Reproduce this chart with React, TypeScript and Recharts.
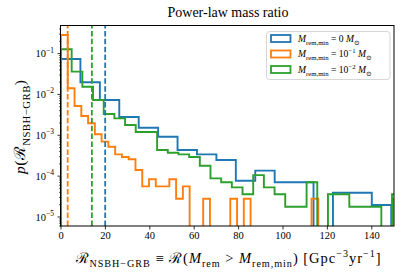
import { LineChart, Line, XAxis, YAxis, ReferenceLine } from 'recharts';

const BLUE = '#1f77b4';
const ORANGE = '#ff7f0e';
const GREEN = '#2ca02c';
const FONT = '"Liberation Serif", "DejaVu Serif", serif';

// histogram densities, one value per bin (0 = empty bin)
const blueBinWidth = 8.75;
const blueDensity = [
  0.074, 0.0199, 0.0073, 0.0028, 0.00153, 0.00092, 0.000436, 0.00034, 0.000248,
  7.7e-5, 1.36e-4, 7.1e-5, 7.1e-5, 0, 3.9e-5, 3.9e-5, 1.96e-5,
];

const orangeBinWidth = 3.05;
const orangeDensity = [
  0.287, 0.0142, 0.00522, 0.00297, 0.00197, 0.00106, 0.0007, 0.000526, 0.00034, 0.000295,
  0.000258, 0.000141, 5.6e-5, 8.4e-5, 5.6e-5, 5.6e-5, 8.4e-5, 2.8e-5, 5.6e-5, 0,
  0, 2.8e-5, 0, 0, 0, 2.8e-5, 0, 2.8e-5, 0, 0,
  0, 0, 0, 0, 0, 0, 0, 2.8e-5, 0, 0,
  0, 0, 0, 0, 0, 0, 0, 0, 0, 2.8e-5,
];

const greenBinWidth = 4.81;
const greenDensity = [
  0.128, 0.0362, 0.0155, 0.00733, 0.00333, 0.0026, 0.00179, 0.0012, 0.0012, 0.000436,
  0.000375, 0.00034, 0.000295, 0.00018, 8.8e-5, 7.1e-5, 5.3e-5, 3.6e-5, 1.06e-4, 5.3e-5,
  3.6e-5, 1.78e-5, 1.78e-5, 7.1e-5, 0, 3.6e-5, 3.6e-5, 1.78e-5, 1.78e-5, 1.78e-5,
  0, 3.6e-5,
];

// dashed vertical markers
const blueMarker = 19.9;
const orangeMarker = 3.0;
const greenMarker = 13.9;

const xTicks = [0, 20, 40, 60, 80, 100, 120, 140];
const Y_DOMAIN: [number, number] = [6e-6, 0.475];
const FLOOR = 1e-7;

const yTicks = (() => {
  const out: number[] = [];
  for (let k = -6; k <= -1; k++) {
    for (let m = 1; m <= 9; m++) {
      const v = m * Math.pow(10, k);
      if (v >= Y_DOMAIN[0] && v <= Y_DOMAIN[1]) out.push(v);
    }
  }
  return out;
})();

function histSteps(density: number[], width: number) {
  const pts = [{ x: 0, y: FLOOR }];
  density.forEach((d, i) => pts.push({ x: i * width, y: d > 0 ? d : FLOOR }));
  pts.push({ x: density.length * width, y: FLOOR });
  return pts;
}

const blueSteps = histSteps(blueDensity, blueBinWidth);
const orangeSteps = histSteps(orangeDensity, orangeBinWidth);
const greenSteps = histSteps(greenDensity, greenBinWidth);

type Seg = { t: string; it?: boolean; sub?: boolean; sup?: boolean };

function MathText({ x, y, fs, segs, anchor = 'start', transform, length }: {
  x: number; y: number; fs: number; segs: Seg[]; anchor?: string; transform?: string; length?: number;
}) {
  let cur = 0;
  return (
    <text
      x={x}
      y={y}
      fontSize={fs}
      textAnchor={anchor}
      transform={transform}
      fontFamily={FONT}
      fill="#000"
      textLength={length}
      lengthAdjust={length ? 'spacing' : undefined}
    >
      {segs.map((s, i) => {
        const target = s.sub ? 0.3 * fs : s.sup ? -0.4 * fs : 0;
        const dy = target - cur;
        cur = target;
        return (
          <tspan key={i} dy={dy} fontSize={s.sub || s.sup ? fs * 0.7 : fs} fontStyle={s.it ? 'italic' : 'normal'}>
            {s.t}
          </tspan>
        );
      })}
    </text>
  );
}

const YTick = ({ x, y, payload }: any) => {
  const v = payload.value as number;
  const e = Math.log10(v);
  const major = Math.abs(e - Math.round(e)) < 1e-6;
  return (
    <g>
      <line x1={x} x2={x - (major ? 3.5 : 2)} y1={y} y2={y} stroke="#000" strokeWidth={major ? 0.8 : 0.6} />
      {major && (
        <text x={x - 7} y={y + 3.8} textAnchor="end" fontSize={10.5} fontFamily={FONT} fill="#000">
          <tspan>10</tspan>
          <tspan dy={-4.8} fontSize={7.5}>{'\u2212' + -Math.round(e)}</tspan>
        </text>
      )}
    </g>
  );
};

const XTick = ({ x, y, payload }: any) => (
  <g>
    <line x1={x} x2={x} y1={y} y2={y + 3.5} stroke="#000" strokeWidth={0.8} />
    <text x={x} y={y + 13} textAnchor="middle" fontSize={10.5} fontFamily={FONT} fill="#000">
      {payload.value}
    </text>
  </g>
);

const legendItems = [
  { color: BLUE, value: [{ t: '0 ' }] },
  { color: ORANGE, value: [{ t: '10' }, { t: '\u22121', sup: true }, { t: ' ' }] },
  { color: GREEN, value: [{ t: '10' }, { t: '\u22122', sup: true }, { t: ' ' }] },
];

export default function App() {
  return (
    <div style={{ position: 'absolute', left: 0, top: 0, width: 415, height: 277, background: '#fff' }}>
      <LineChart width={415} height={277} margin={{ top: 26, right: 21, bottom: 0, left: 0 }}>
        <XAxis
          dataKey="x"
          type="number"
          domain={[0, 150]}
          allowDataOverflow
          ticks={xTicks}
          height={51}
          axisLine={false}
          tickLine={false}
          tickSize={0}
          tickMargin={0}
          tick={<XTick />}
        />
        <YAxis
          scale="log"
          type="number"
          domain={Y_DOMAIN}
          allowDataOverflow
          ticks={yTicks}
          width={61}
          axisLine={false}
          tickLine={false}
          tickSize={0}
          tickMargin={0}
          interval={0}
          tick={<YTick />}
        />
        <Line data={blueSteps} dataKey="y" type="stepAfter" stroke={BLUE} strokeWidth={1.9} dot={false} isAnimationActive={false} />
        <Line data={orangeSteps} dataKey="y" type="stepAfter" stroke={ORANGE} strokeWidth={1.9} dot={false} isAnimationActive={false} />
        <Line data={greenSteps} dataKey="y" type="stepAfter" stroke={GREEN} strokeWidth={1.9} dot={false} isAnimationActive={false} />
        <ReferenceLine x={blueMarker} stroke={BLUE} strokeWidth={1.8} strokeDasharray="5.5 2.4" />
        <ReferenceLine x={orangeMarker} stroke={ORANGE} strokeWidth={1.8} strokeDasharray="5.5 2.4" />
        <ReferenceLine x={greenMarker} stroke={GREEN} strokeWidth={1.8} strokeDasharray="5.5 2.4" />
      </LineChart>
      <svg width={415} height={277} style={{ position: 'absolute', left: 0, top: 0, pointerEvents: 'none' }}>
        <rect x={60.5} y={25.5} width={333.5} height={200.5} fill="none" stroke="#000" strokeWidth={1} />
        <text x={228} y={16.5} textAnchor="middle" fontSize={14} fontFamily={FONT} fill="#000">
          Power-law mass ratio
        </text>
        <MathText
          x={228}
          y={263}
          fs={14.5}
          anchor="middle"
          length={305}
          segs={[
            { t: '\u211B' }, { t: 'NSBH\u2212GRB', sub: true }, { t: ' \u2261 \u211B(' }, { t: 'M', it: true },
            { t: 'rem', sub: true }, { t: ' > ' }, { t: 'M', it: true }, { t: 'rem,min', sub: true },
            { t: ')  [Gpc' }, { t: '\u22123', sup: true }, { t: 'yr' }, { t: '\u22121', sup: true }, { t: ']' },
          ]}
        />
        <MathText
          x={25}
          y={127}
          fs={15.5}
          anchor="middle"
          length={94}
          transform="rotate(-90 25 127)"
          segs={[{ t: 'p', it: true }, { t: '(\u211B' }, { t: 'NSBH\u2212GRB', sub: true }, { t: ')' }]}
        />
        <rect x={266.5} y={31.5} width={123.5} height={48} rx={3} fill="rgba(255,255,255,0.85)" stroke="#d6d6d6" strokeWidth={1} />
        {legendItems.map((it, i) => {
          const cy = 38.5 + i * 15.5;
          return (
            <g key={i}>
              <rect x={271} y={cy - 3.5} width={19.5} height={7} fill="none" stroke={it.color} strokeWidth={1.8} />
              <MathText
                x={298}
                y={cy + 3.2}
                fs={9.6}
                segs={[
                  { t: 'M', it: true }, { t: 'rem,min', sub: true }, { t: ' = ' },
                  ...it.value, { t: 'M', it: true }, { t: '\u2299', sub: true },
                ]}
              />
            </g>
          );
        })}
      </svg>
    </div>
  );
}
